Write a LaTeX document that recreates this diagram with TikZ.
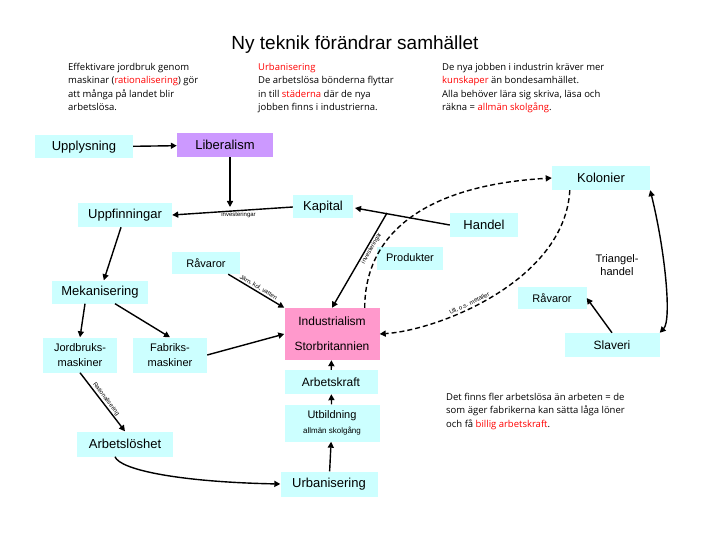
\documentclass[tikz,border=0pt]{standalone}
\usepackage{fontspec}
\setmainfont{Liberation Sans}
\newfontfamily\blockfont{Open Sans}
\usetikzlibrary{arrows.meta}
\definecolor{cy}{HTML}{CCFFFF}
\definecolor{pk}{HTML}{FF99CC}
\definecolor{pu}{HTML}{CC99FF}
\definecolor{rd}{HTML}{FF0000}
\begin{document}
\begin{tikzpicture}[x=1pt,y=-1pt,
  box/.style={fill=cy,inner sep=0pt,font=\fontsize{13}{15}\selectfont,align=center},
  txt/.style={font=\blockfont\fontsize{9.5}{13.5}\selectfont,align=left,anchor=north west,inner sep=0pt},
  arr/.style={-{Triangle[length=6pt,width=6pt]},line width=1.4pt},
  dsh/.style={arr,dashed,dash pattern=on 5pt off 3pt},
  lab/.style={font=\fontsize{6}{7}\selectfont,inner sep=1pt}]
\useasboundingbox (0,0) rectangle (720,540);
\node[font=\fontsize{19}{21}\selectfont] (title) at (355,45) {Ny teknik förändrar samhället};
\node[txt] (t1) at (68,63) {Effektivare jordbruk genom\\maskinar ({\color{rd}rationalisering}) gör\\att många på landet blir\\arbetslösa.};
\node[txt] (t2) at (258,63) {{\color{rd}Urbanisering}\\De arbetslösa bönderna flyttar\\in till {\color{rd}städerna} där de nya\\jobben finns i industrierna.};
\node[txt] (t3) at (442,63) {De nya jobben i industrin kräver mer\\{\color{rd}kunskaper} än bondesamhället.\\Alla behöver lära sig skriva, läsa och\\räkna = {\color{rd}allmän skolgång}.};
\node[txt] (t4) at (446,393) {Det finns fler arbetslösa än arbeten = de\\som äger fabrikerna kan sätta låga löner\\och få {\color{rd}billig arbetskraft}.};

\node[box,minimum width=98,minimum height=23] (upp) at (84,147) {Upplysning};
\node[box,fill=pu,minimum width=96,minimum height=24] (lib) at (225,145) {Liberalism};
\node[box,minimum width=98,minimum height=24] (kol) at (601,178) {Kolonier};
\node[box,minimum width=94,minimum height=24] (uppf) at (125,215) {Uppfinningar};
\node[box,minimum width=60,minimum height=23] (kap) at (323,207) {Kapital};
\node[box,minimum width=68,minimum height=24] (han) at (484,225) {Handel};
\node[box,minimum width=68,minimum height=22,font=\fontsize{11}{13}\selectfont] (rav) at (206,263) {Råvaror};
\node[box,minimum width=66,minimum height=23,font=\fontsize{11}{13}\selectfont] (pro) at (410,258) {Produkter};
\node[box,fill=none,font=\fontsize{11}{13}\selectfont] (tri) at (617,265) {Triangel-\\handel};
\node[box,minimum width=69,minimum height=22,font=\fontsize{11}{13}\selectfont] (rav2) at (552,298) {Råvaror};
\node[box,minimum width=96,minimum height=23] (mek) at (100,292) {Mekanisering};
\node[box,fill=pk,minimum width=95,minimum height=52,font=\fontsize{12}{25}\selectfont] (ind) at (332,334) {Industrialism\\Storbritannien};
\node[box,minimum width=95,minimum height=24,font=\fontsize{12}{14}\selectfont] (sla) at (612,345) {Slaveri};
\node[box,minimum width=74,minimum height=35,font=\fontsize{11}{15}\selectfont] (jor) at (80,355) {Jordbruks-\\maskiner};
\node[box,minimum width=74,minimum height=35,font=\fontsize{11}{15}\selectfont] (fab) at (170,355) {Fabriks-\\maskiner};
\node[box,minimum width=93,minimum height=24,font=\fontsize{12}{14}\selectfont] (ark) at (331,382) {Arbetskraft};
\node[box,minimum width=95,minimum height=37,font=\fontsize{11}{15}\selectfont] (utb) at (332,423) {Utbildning\\{\fontsize{8}{10}\selectfont allmän skolgång}};
\node[box,minimum width=96,minimum height=25] (arl) at (125,444) {Arbetslöshet};
\node[box,minimum width=97,minimum height=25] (urb) at (329,484) {Urbanisering};

\coordinate (j1) at (230,207);
\coordinate (j2) at (387,213);
\coordinate (ke) at (355,208);
\draw[arr] (upp) -- (lib);
\draw[arr] (lib.south -| j1) -- (j1);
\draw[arr] (kap.west) -- node[lab,below,pos=0.45]{investeringar} (uppf.east);
\draw[arr] (han.west) -- (ke);
\draw[arr] (j2) -- node[lab,sloped,below,pos=0.35]{investeringar} (ind.north);
\draw[arr] (rav.south east) ++(-12,0) -- node[lab,sloped,above]{Järn, kol, vatten} (ind.north west);
\draw[arr] (uppf) -- (mek);
\draw[arr] (mek.south) ++(-15,0) -- (jor.north);
\draw[arr] (mek.south) ++(15,0) -- (fab.north);
\draw[arr] (fab.east) -- (ind.west);
\draw[arr] (jor.south) -- node[lab,sloped,above]{Rationalisering} (arl.north);
\draw[arr] (arl.south) ++(-10,0) .. controls (120,470) and (180,482) .. (urb.west);
\draw[arr] (urb) -- (utb);
\draw[arr] (utb) -- (ark);
\draw[arr] (ark) -- (ind);
\draw[dsh] (ind.north east) ++(-15,0) .. controls (365,230) and (430,185) .. (kol.west);
\draw[dsh] (kol.south west) ++(18,0) .. controls (565,280) and (440,330) .. node[lab,sloped,above,pos=0.6]{Ull, o.s. metaller} (ind.east);
\draw[{Triangle[length=6pt,width=6pt]}-{Triangle[length=6pt,width=6pt]},line width=1.4pt] (kol.south east) .. controls (665,250) and (672,320) .. (sla.north east);
\draw[arr] (sla.north) -- (rav2.east);
\end{tikzpicture}
\end{document}
